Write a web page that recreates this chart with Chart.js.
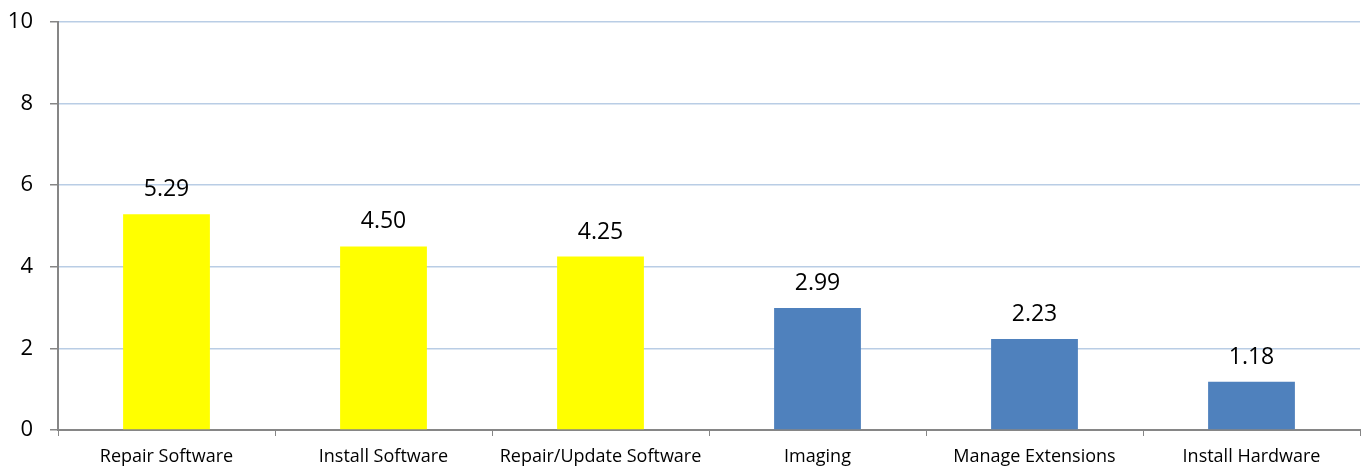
<!DOCTYPE html>
<html>
<head>
<meta charset="utf-8">
<script src="https://cdn.jsdelivr.net/npm/chart.js@4.4.0/dist/chart.umd.min.js"></script>
<style>
  html, body { margin: 0; padding: 0; background: #fff; }
  #wrap { width: 1369px; height: 468px; }
</style>
</head>
<body>
<div id="wrap"><canvas id="chart"></canvas></div>
<script>
// chart data
const categories = ['Repair Software', 'Install Software', 'Repair/Update Software', 'Imaging', 'Manage Extensions', 'Install Hardware'];
const values = [5.29, 4.50, 4.25, 2.99, 2.23, 1.18];
const barColors = ['#FFFF00', '#FFFF00', '#FFFF00', '#4F81BD', '#4F81BD', '#4F81BD'];
const yTicks = [0, 2, 4, 6, 8, 10];

const fontFamily = '"Open Sans", Lato, sans-serif';

// draws the value above each bar
const valueLabels = {
  id: 'valueLabels',
  afterDatasetsDraw(chart) {
    const ctx = chart.ctx;
    const meta = chart.getDatasetMeta(0);
    ctx.save();
    ctx.font = '23px ' + fontFamily;
    ctx.fillStyle = '#000';
    ctx.textAlign = 'center';
    ctx.textBaseline = 'alphabetic';
    meta.data.forEach((bar, i) => {
      ctx.fillText(values[i].toFixed(2), bar.x, bar.y - 18);
    });
    ctx.restore();
  }
};

new Chart(document.getElementById('chart'), {
  type: 'bar',
  data: {
    labels: categories,
    datasets: [{
      data: values,
      backgroundColor: barColors,
      barPercentage: 0.4,
      categoryPercentage: 1.0
    }]
  },
  options: {
    responsive: true,
    maintainAspectRatio: false,
    animation: false,
    layout: { padding: { top: 22, right: 9, left: 0, bottom: 0 } },
    plugins: {
      legend: { display: false },
      tooltip: { enabled: false }
    },
    scales: {
      x: {
        grid: {
          offset: true,
          drawOnChartArea: false,
          drawTicks: true,
          tickLength: 6,
          tickColor: '#868686'
        },
        border: { color: '#868686', width: 2 },
        ticks: {
          color: '#000',
          font: { family: fontFamily, size: 18 },
          padding: 10,
          maxRotation: 0,
          autoSkip: false
        },
        afterFit(scale) {
          scale.height = 38;
          scale.paddingLeft = 0;
          scale.paddingRight = 0;
        }
      },
      y: {
        min: 0,
        max: 10,
        afterBuildTicks(scale) { scale.ticks = yTicks.map(v => ({ value: v })); },
        grid: {
          color: ctx => ctx.tick && ctx.tick.value === 0 ? '#868686' : '#B9CDE5',
          lineWidth: 1.5,
          tickLength: 8,
          tickColor: '#868686'
        },
        border: { color: '#868686', width: 2 },
        ticks: {
          color: '#000',
          font: { family: fontFamily, size: 22 },
          padding: 17
        },
        afterFit(scale) {
          scale.width = 58;
          scale.paddingTop = 0;
          scale.paddingBottom = 0;
        }
      }
    }
  },
  plugins: [valueLabels]
});
</script>
</body>
</html>
